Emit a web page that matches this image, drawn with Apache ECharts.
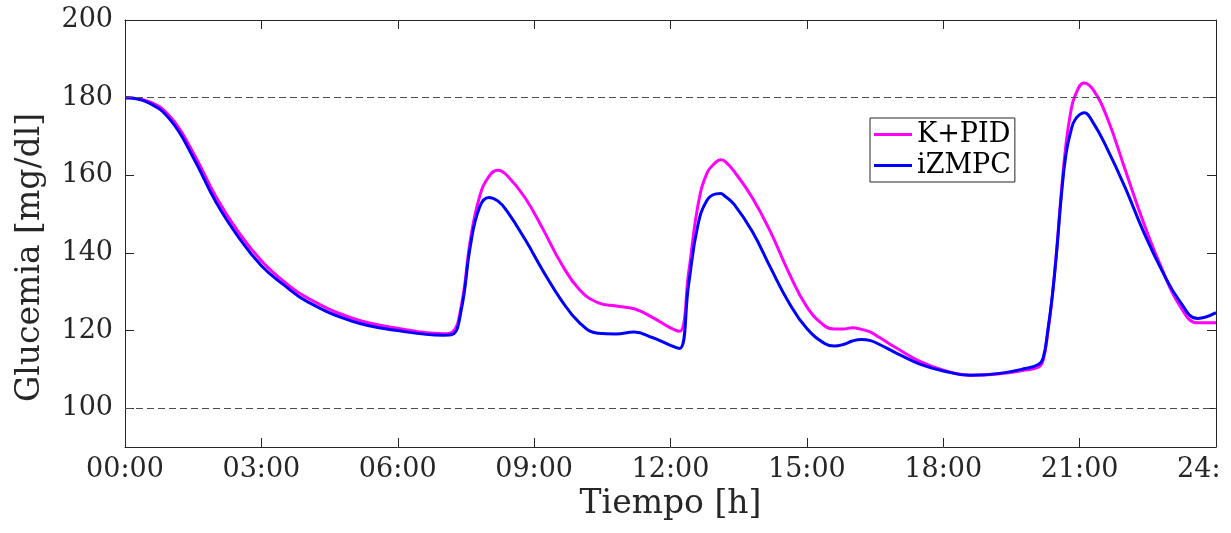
<!DOCTYPE html>
<html>
<head>
<meta charset="utf-8">
<script src="https://cdn.jsdelivr.net/npm/echarts@6.0.0/dist/echarts.min.js"></script>
<style>
  html, body { margin: 0; padding: 0; background: #ffffff; overflow: hidden; }
  #chart { width: 1221px; height: 533px; }
</style>
</head>
<body>
<div id="chart"></div>
<script>
// ---- data (time in hours, glucose in mg/dl) ----
const timeHours = [0, 0.5, 1, 1.5, 2, 2.5, 3, 3.5, 4, 5, 6, 7, 7.2, 7.4, 7.6, 7.8, 8.0, 8.2, 8.4, 8.8,
  9.2, 9.6, 10.0, 10.4, 10.8, 11.2, 11.6, 12.0, 12.2, 12.4, 12.6, 12.8, 13.0, 13.1, 13.2, 13.4, 13.8,
  14.2, 14.6, 15.0, 15.4, 15.6, 15.8, 16.0, 16.2, 16.4, 16.6, 17.0, 17.5, 18.0, 18.6, 19.2, 19.8, 20.1, 20.2, 20.3,
  20.4, 20.5, 20.6, 20.7, 20.8, 20.9, 21.1, 21.3, 21.6, 22.0, 22.4, 22.8, 23.2, 23.6, 24.0];

const kpid = [180, 179.1, 175.0, 165.8, 154.5, 145.3, 138.0, 132.6, 128.5, 123.2, 120.6, 119.2, 119.6, 126.5, 143.5, 154.5, 159.6, 161.3, 160.0, 154.2,
  146.0, 137.2, 130.5, 127.2, 126.3, 125.6, 123.4, 120.7, 119.8, 135.0, 152.0, 160.5, 163.4, 164.0, 163.6, 161.0, 154.2,
  145.4, 135.0, 126.1, 121.1, 120.4, 120.4, 120.7, 120.3, 119.6, 118.2, 115.3, 112.0, 109.8, 108.5, 108.8, 109.8, 110.6, 112.5, 119.5,
  129.0, 141.5, 156.0, 168.0, 176.0, 180.5, 183.8, 182.0, 175.0, 161.5, 148.0, 136.2, 126.5, 122.0, 122.0];

const izmpc = [180, 178.8, 174.2, 164.6, 153.1, 144.0, 136.7, 131.7, 127.5, 122.4, 120.0, 118.8, 119.0, 125.5, 142.0, 151.8, 154.3, 153.4, 150.8, 143.5,
  135.3, 127.8, 122.0, 119.3, 119.1, 119.6, 118.2, 116.2, 115.4, 132.0, 147.0, 153.5, 155.2, 155.3, 154.6, 152.5, 145.5,
  136.2, 127.3, 120.5, 116.6, 116.0, 116.4, 117.3, 117.7, 117.4, 116.4, 114.0, 111.3, 109.6, 108.5, 108.9, 110.2, 111.3, 113.0, 120.0,
  129.0, 141.0, 155.0, 165.5, 171.0, 174.3, 176.1, 173.5, 167.0, 156.9, 145.6, 135.7, 127.6, 123.1, 124.6];

const seriesNames = ['K+PID', 'iZMPC'];
const xTickLabels = ['00:00', '03:00', '06:00', '09:00', '12:00', '15:00', '18:00', '21:00', '24:00'];
const yTickValues = [100, 120, 140, 160, 180, 200];
const limitLines = [180, 100];

// ---- chart ----
const FONT = 'DejaVu Serif';
const AX = '#262626';
const chart = echarts.init(document.getElementById('chart'), null, { renderer: 'canvas' });

const toPairs = (vals) => timeHours.map((t, i) => [t, vals[i]]);

const baseX = {
  type: 'value', min: 0, max: 24, interval: 3,
  axisLine: { show: true, onZero: false, lineStyle: { color: AX, width: 1 } },
  axisTick: { show: true, inside: true, length: 9, lineStyle: { color: AX } },
  splitLine: { show: false }
};
const baseY = {
  type: 'value', min: 90, max: 200, interval: 10,
  axisLine: { show: true, onZero: false, lineStyle: { color: AX, width: 1 } },
  axisTick: { show: true, inside: true, length: 9, lineStyle: { color: AX }, customValues: yTickValues },
  splitLine: { show: false }
};

chart.setOption({
  animation: false,
  backgroundColor: '#ffffff',
  grid: { left: 125, right: 5, top: 20, bottom: 86, containLabel: false, outerBoundsMode: 'none' },
  legend: {
    data: seriesNames.map(n => ({ name: n, icon: 'rect' })),
    orient: 'vertical',
    left: 870, top: 118,
    itemWidth: 38, itemHeight: 3, itemGap: 4,
    padding: [3, 4, 3, 4],
    borderColor: AX, borderWidth: 1,
    backgroundColor: '#ffffff',
    textStyle: { fontFamily: FONT, fontSize: 27, color: '#000000', lineHeight: 25 }
  },
  xAxis: [
    Object.assign({}, baseX, {
      position: 'bottom',
      axisLabel: {
        show: true, margin: 9, fontFamily: FONT, fontSize: 27, color: AX,
        formatter: (v) => xTickLabels[Math.round(v / 3)]
      },
      name: 'Tiempo [h]', nameLocation: 'middle', nameGap: 29,
      nameTextStyle: { fontFamily: FONT, fontSize: 33, color: AX }
    }),
    Object.assign({}, baseX, { position: 'top', axisLabel: { show: false } })
  ],
  yAxis: [
    Object.assign({}, baseY, {
      position: 'left',
      axisLabel: {
        show: true, margin: 12, fontFamily: FONT, fontSize: 27, color: AX,
        customValues: yTickValues
      },
      name: 'Glucemia [mg/dl]', nameLocation: 'middle', nameGap: 78,
      nameTextStyle: { fontFamily: FONT, fontSize: 33, color: AX, padding: [0, 48, 0, 0] }
    }),
    Object.assign({}, baseY, { position: 'right', axisLabel: { show: false } })
  ],
  series: [
    {
      name: 'limits', type: 'line', data: [], silent: true,
      markLine: {
        silent: true, symbol: ['none', 'none'], animation: false,
        label: { show: false },
        lineStyle: { type: [7, 4], color: '#4d4d4d', width: 1 },
        data: limitLines.map(v => ({ yAxis: v }))
      }
    },
    {
      name: seriesNames[0], type: 'line', data: toPairs(kpid),
      symbol: 'none', smooth: 0.45, color: '#ff00ff',
      lineStyle: { color: '#ff00ff', width: 3 }
    },
    {
      name: seriesNames[1], type: 'line', data: toPairs(izmpc),
      symbol: 'none', smooth: 0.45, color: '#0000ff',
      lineStyle: { color: '#0000ff', width: 3 }
    }
  ]
});
</script>
</body>
</html>
